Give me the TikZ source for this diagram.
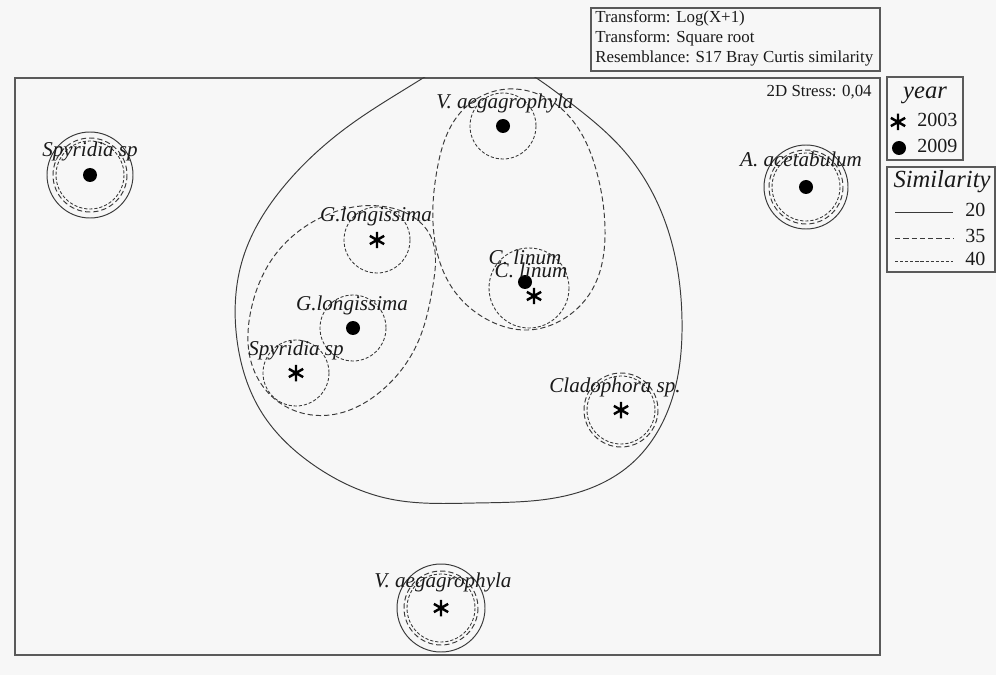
\documentclass[tikz,border=0pt]{standalone}
\usepackage{fontspec}
\usetikzlibrary{hobby}
\setmainfont{Liberation Serif}
\definecolor{bg}{HTML}{F7F7F7}
\definecolor{ln}{HTML}{3A3A3A}
\definecolor{frm}{HTML}{5A5A5A}
\definecolor{txt}{HTML}{1A1A1A}
\begin{document}
\begin{tikzpicture}[x=0.02cm,y=-0.02cm,
  s20/.style={draw=ln, line width=0.55pt},
  s35/.style={draw=ln, line width=0.55pt, dash pattern=on 3pt off 1.7pt},
  s40/.style={draw=ln, line width=0.5pt, dash pattern=on 1.8pt off 1.1pt},
  lab/.style={font=\fontsize{12}{14}\selectfont\itshape, text=txt, anchor=base, inner sep=0pt},
  small/.style={font=\fontsize{9.6}{11}\selectfont, text=txt, inner sep=0pt},
  leg/.style={font=\fontsize{11.4}{13}\selectfont, text=txt, anchor=base west, inner sep=0pt},
  legt/.style={font=\fontsize{14}{16}\selectfont\itshape, text=txt, anchor=base, inner sep=0pt},
  dotm/.style={circle, fill=black, inner sep=0pt, minimum size=0.28cm},
  astm/.style={circle, inner sep=0pt, minimum size=0.4cm,
    path picture={\draw[black, line width=1.4pt, shift={(path picture bounding box.center)}]
      (90:0.165cm) -- (270:0.165cm) (30:0.165cm) -- (210:0.165cm) (150:0.165cm) -- (330:0.165cm);}},
  boxl/.style={draw=frm, line width=0.6pt}
]
\fill[bg] (0,0) rectangle (996,675);
\useasboundingbox (0,0) rectangle (996,675);

% top text box
\draw[boxl] (591,8) rectangle (880,71);
\node[small, anchor=base west] (t1) at (595,23) {Transform: Log(X+1)};
\node[small, anchor=base west] (t2) at (595,43) {Transform: Square root};
\node[small, anchor=base west] (t3) at (595,63) {Resemblance: S17 Bray Curtis similarity};

% plot frame
\draw[boxl] (15,78) rectangle (880,655);
\node[small, anchor=base east] (stress) at (872,97) {2D Stress: 0,04};

% big 20% outline, clipped by frame
\begin{scope}
\clip (15,78) rectangle (880,655);
\draw[s20, use Hobby shortcut, closed=true]
 (474,58) .. (560,95) .. (625,152) .. (668,230) .. (682,320) .. (670,405) .. (630,465)
 .. (560,497) .. (475,503) .. (390,499) .. (315,466) .. (262,413) .. (237,340)
 .. (243,258) .. (285,185) .. (350,125) .. (415,83);
\end{scope}

% 35% hulls
\draw[s35, use Hobby shortcut, closed=true]
 (387,207) .. (320,218) .. (275,255) .. (251,310) .. (252,365) .. (280,403)
 .. (330,415) .. (380,392) .. (418,342) .. (433,285) .. (430,235);
\draw[s35, use Hobby shortcut, closed=true]
 (508,89) .. (565,112) .. (597,173) .. (605,230) .. (592,290) .. (560,321)
 .. (528,330) .. (490,321) .. (455,292) .. (434,235) .. (437,170) .. (460,113);

% markers
\node[dotm] (sp09) at (90,175) {};
\node[dotm] (va09) at (503,126) {};
\node[dotm] (aa09) at (806,187) {};
\node[astm] (gl03) at (377,240) {};
\node[dotm] (gl09) at (353,328) {};
\node[astm] (sp03) at (296,373) {};
\node[dotm] (cl09) at (525,282) {};
\node[astm] (cl03) at (534,296) {};
\node[astm] (cd03) at (621,410) {};
\node[astm] (va03) at (441,608) {};

% circles
\draw[s20] (sp09.center) circle[radius=43];
\draw[s35] (sp09.center) circle[radius=37];
\draw[s40] (sp09.center) circle[radius=34];
\draw[s20] (aa09.center) circle[radius=42];
\draw[s35] (aa09.center) circle[radius=37];
\draw[s40] (aa09.center) circle[radius=34];
\draw[s20] (va03.center) circle[radius=44];
\draw[s35] (va03.center) circle[radius=37];
\draw[s40] (va03.center) circle[radius=34];
\draw[s35] (cd03.center) circle[radius=37];
\draw[s40] (cd03.center) circle[radius=34];
\draw[s40] (va09.center) circle[radius=33];
\draw[s40] (gl03.center) circle[radius=33];
\draw[s40] (gl09.center) circle[radius=33];
\draw[s40] (sp03.center) circle[radius=33];
\coordinate (clc) at (529,288);
\draw[s40] (clc) circle[radius=40];

% labels
\node[lab] (Lsp09) at (90,157) {Spyridia sp};
\node[lab] (Lva09) at (505,109) {V. aegagrophyla};
\node[lab] (Laa09) at (801,167) {A. acetabulum};
\node[lab] (Lgl03) at (376,222) {G.longissima};
\node[lab] (Lgl09) at (352,310) {G.longissima};
\node[lab] (Lsp03) at (296,355) {Spyridia sp};
\node[lab] (Lcl09) at (525,265) {C. linum};
\node[lab] (Lcl03) at (531,277) {C. linum};
\node[lab] (Lcd03) at (615,392) {Cladophora sp.};
\node[lab] (Lva03) at (443,587) {V. aegagrophyla};

% legend: year
\draw[boxl] (887,77) rectangle (963,160);
\node[legt] (ly) at (925,99) {year};
\node[astm] (lya) at (898,122) {};
\node[leg] (ly1) at (917,127) {2003};
\node[dotm] (lyd) at (899,148) {};
\node[leg] (ly2) at (917,153) {2009};

% legend: similarity
\draw[boxl] (887,167) rectangle (995,272);
\node[legt] (ls) at (942,188) {Similarity};
\coordinate (a1) at (895,212); \coordinate (b1) at (953,212);
\coordinate (a2) at (895,238); \coordinate (b2) at (953,238);
\coordinate (a3) at (895,261); \coordinate (b3) at (953,261);
\draw[s20] (a1) -- (b1);
\draw[s35] (a2) -- (b2);
\draw[s40] (a3) -- (b3);
\node[leg] (l20) at (965,217) {20};
\node[leg] (l35) at (965,243) {35};
\node[leg] (l40) at (965,266) {40};
\end{tikzpicture}
\end{document}
